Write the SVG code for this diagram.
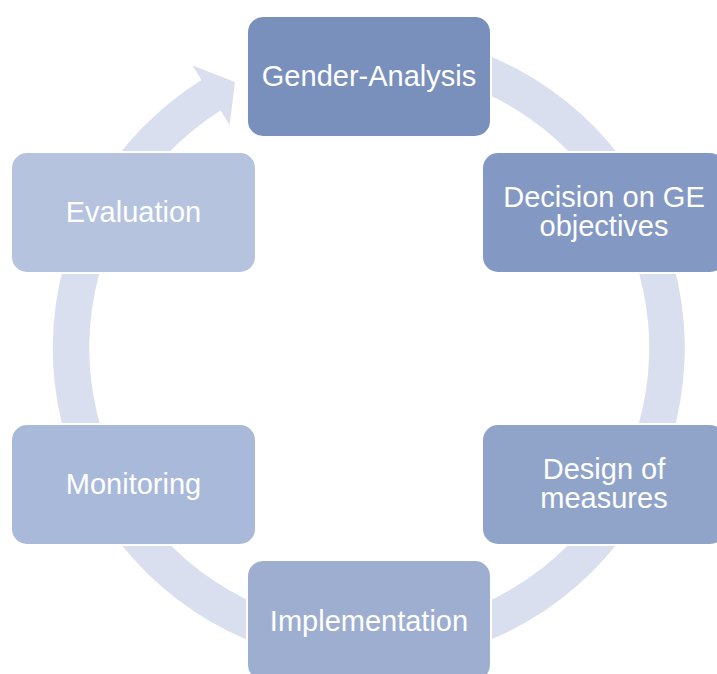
<svg xmlns="http://www.w3.org/2000/svg" width="717" height="674" viewBox="0 0 717 674">
<style>
.node rect{stroke:#ffffff;stroke-width:2}
.node text{font-family:"Liberation Sans",Arial,sans-serif;font-size:29px;fill:#ffffff;text-anchor:middle}
.ring{fill:#d9dfee}
</style>
<rect width="717" height="674" fill="#ffffff"/>
<g id="connectors">
<path class="ring" d="M287.2,42.8 A316,316 0 1 1 201.5,80 L192.5,65.6 L235,82 L229.6,125 L220.6,110.6 A280,280 0 1 0 296.5,77.5 Z"/>
</g>
<g id="node-gender" class="node">
<rect x="247" y="16" width="244" height="121" rx="16" fill="#7990bc"/>
<text x="369" y="86">Gender-Analysis</text>
</g>
<g id="node-decision" class="node">
<rect x="482" y="152" width="244" height="121" rx="16" fill="#8398c3"/>
<text x="604" y="207">Decision on GE</text>
<text x="604" y="236">objectives</text>
</g>
<g id="node-design" class="node">
<rect x="482" y="424" width="244" height="121" rx="16" fill="#90a4ca"/>
<text x="604" y="479">Design of</text>
<text x="604" y="508">measures</text>
</g>
<g id="node-implementation" class="node">
<rect x="247" y="560" width="244" height="121" rx="16" fill="#9daed0"/>
<text x="369" y="631">Implementation</text>
</g>
<g id="node-monitoring" class="node">
<rect x="11" y="424" width="245" height="121" rx="16" fill="#a9b9da"/>
<text x="133.5" y="494">Monitoring</text>
</g>
<g id="node-evaluation" class="node">
<rect x="11" y="152" width="245" height="121" rx="16" fill="#b5c3df"/>
<text x="133.5" y="222">Evaluation</text>
</g>
</svg>
